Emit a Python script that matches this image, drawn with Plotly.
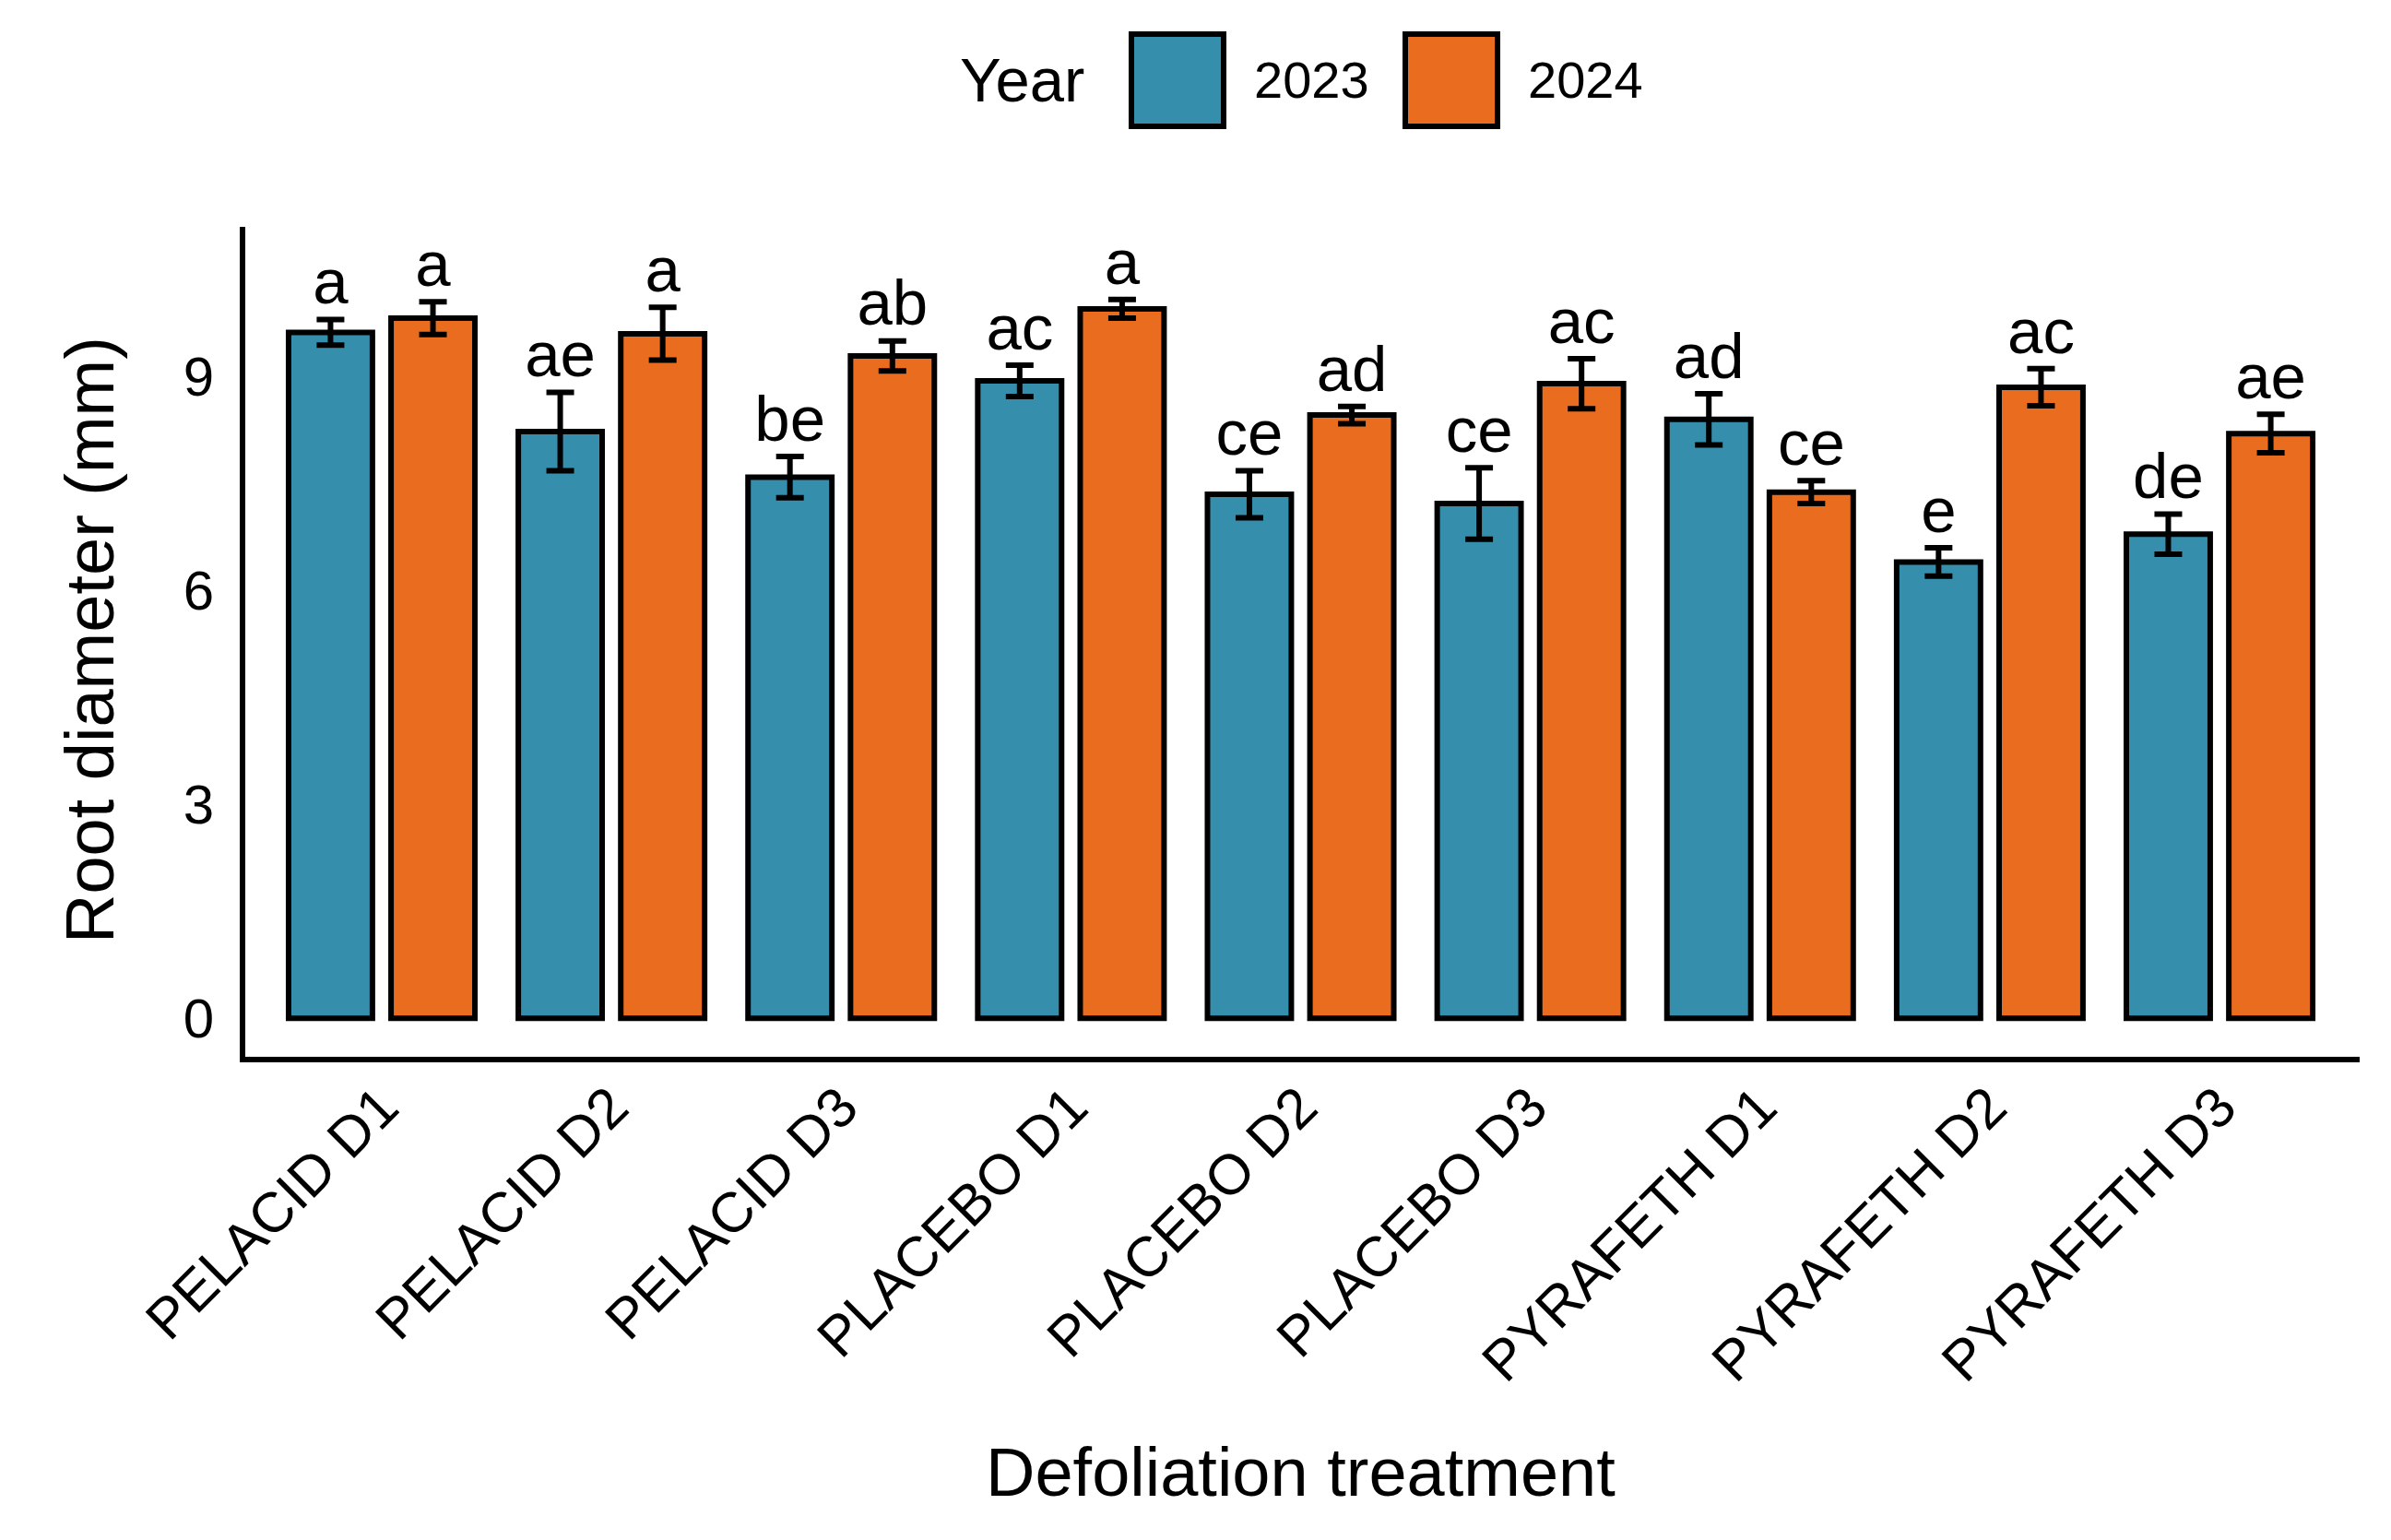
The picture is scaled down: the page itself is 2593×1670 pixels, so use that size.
import numpy as np
import plotly.graph_objects as go

categories = ["PELACID D1", "PELACID D2", "PELACID D3",
              "PLACEBO D1", "PLACEBO D2", "PLACEBO D3",
              "PYRAFETH D1", "PYRAFETH D2", "PYRAFETH D3"]
years = ["2023", "2024"]
mean_2023 = [9.62, 8.23, 7.59, 8.94, 7.35, 7.22, 8.40, 6.40, 6.79]
se_2023 = [0.18, 0.55, 0.29, 0.22, 0.33, 0.50, 0.36, 0.20, 0.28]
mean_2024 = [9.82, 9.60, 9.29, 9.95, 8.46, 8.90, 7.38, 8.85, 8.20]
se_2024 = [0.23, 0.37, 0.21, 0.13, 0.12, 0.35, 0.16, 0.26, 0.27]
letters_2023 = ["a", "ae", "be", "ac", "ce", "ce", "ad", "e", "de"]
letters_2024 = ["a", "a", "ab", "a", "ad", "ac", "ce", "ac", "ae"]
y_ticks = [0, 3, 6, 9]

colors = {"2023": "#368EAD", "2024": "#E96C1F"}
FONT = "Liberation Sans, Arial, sans-serif"

W, H = 2593, 1670
# plot area in reference pixel coordinates
ML, MR, MT, MB = 265, 35, 246, 524
PW, PH = W - ML - MR, H - MT - MB
OFFX, OFFY = 7, 8  # page body offset compensation

def px(x):
    return (x - ML) / PW

def py(y):
    return 1 - (y - MT) / PH

idx = np.arange(len(categories))
dodge = 0.223
bar_w = 0.365

fig = go.Figure()
series = [("2023", mean_2023, se_2023, letters_2023, -dodge),
          ("2024", mean_2024, se_2024, letters_2024, dodge)]
for name, m, s, lab, off in series:
    xs = idx + off
    fig.add_trace(go.Bar(
        x=xs, y=m, width=bar_w, name=name, showlegend=False,
        marker=dict(color=colors[name], line=dict(color="black", width=6)),
        error_y=dict(type="data", array=s, visible=True, color="black",
                     thickness=6, width=15),
    ))
    fig.add_trace(go.Scatter(
        x=xs, y=np.array(m) + np.array(s), mode="text", text=lab,
        textposition="top center", showlegend=False,
        textfont=dict(family=FONT, size=69, color="black"),
        cliponaxis=False,
    ))

fig.update_layout(
    width=W, height=H, barmode="overlay",
    margin=dict(l=ML - OFFX, r=MR + OFFX, t=MT - OFFY, b=MB + OFFY, pad=0),
    paper_bgcolor="white", plot_bgcolor="white",
    font=dict(family=FONT, color="black"),
    showlegend=False,
)
fig.update_xaxes(
    range=[-0.594, 8.61], tickmode="array", tickvals=idx, ticktext=categories,
    tickangle=-45, showline=True, linecolor="black", linewidth=6,
    showgrid=False, zeroline=False, ticks="",
    tickfont=dict(family=FONT, size=61, color="black"),
    ticklabelstandoff=-12,
)
fig.update_yaxes(
    range=[-0.54, 11.1], tickmode="array", tickvals=y_ticks,
    showline=True, linecolor="black", linewidth=6,
    showgrid=False, zeroline=False, ticks="",
    tickfont=dict(family=FONT, size=60, color="black"),
    ticklabelstandoff=16,
)

# axis titles
fig.add_annotation(text="Defoliation treatment", x=px(1409), y=py(1596),
                   xref="paper", yref="paper", showarrow=False,
                   xanchor="center", yanchor="middle",
                   font=dict(family=FONT, size=74, color="black"))
fig.add_annotation(text="Root diameter (mm)", x=px(96), y=py(694),
                   xref="paper", yref="paper", showarrow=False, textangle=-90,
                   xanchor="center", yanchor="middle",
                   font=dict(family=FONT, size=74, color="black"))

# legend (top, horizontal)
fig.add_annotation(text="Year", x=px(1038), y=py(87), xref="paper", yref="paper",
                   showarrow=False, xanchor="left", yanchor="middle",
                   font=dict(family=FONT, size=67, color="black"))
legend_items = [("2023", 1226, 1357), ("2024", 1523, 1654)]
for name, sx, tx in legend_items:
    fig.add_shape(type="rect", xref="paper", yref="paper",
                  x0=px(sx), x1=px(sx + 100), y0=py(137), y1=py(37),
                  fillcolor=colors[name], line=dict(color="black", width=6))
    fig.add_annotation(text=name, x=px(tx), y=py(87), xref="paper", yref="paper",
                       showarrow=False, xanchor="left", yanchor="middle",
                       font=dict(family=FONT, size=56, color="black"))

fig.write_html("out.html")
